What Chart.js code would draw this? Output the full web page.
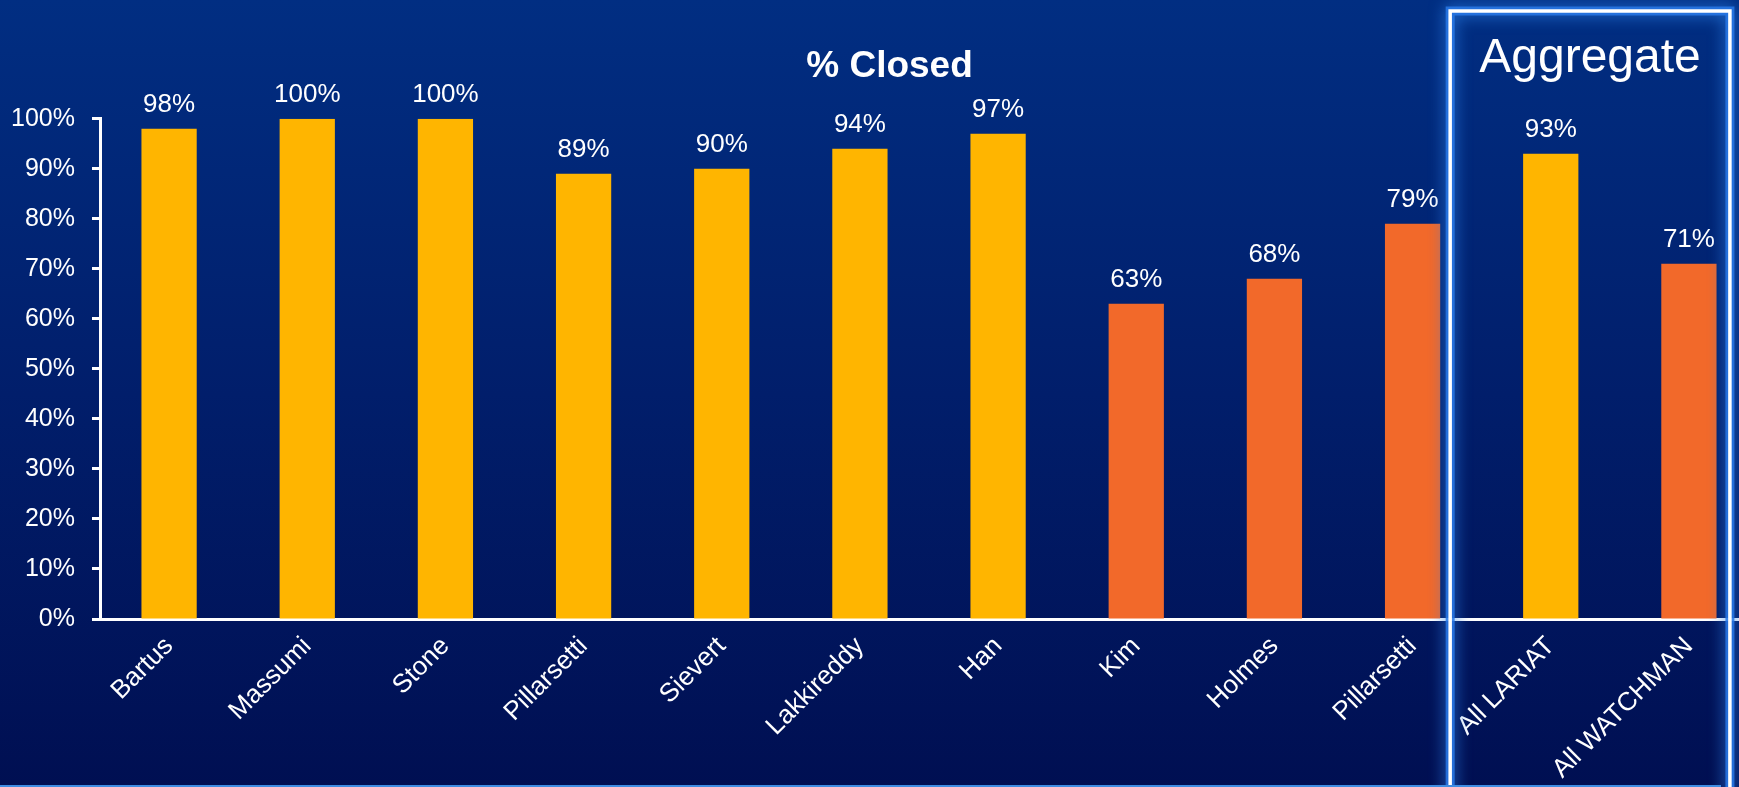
<!DOCTYPE html>
<html>
<head>
<meta charset="utf-8">
<script src="https://cdn.jsdelivr.net/npm/chart.js@4/dist/chart.umd.min.js"></script>
<style>
  html, body { margin: 0; padding: 0; overflow: hidden; background: #001a66; }
  #wrap { width: 1739px; height: 787px; overflow: hidden; position: relative; }
  canvas { display: block; }
</style>
</head>
<body>
<div id="wrap"><canvas id="c" width="1780" height="787"></canvas></div>
<script>
// ---- data ----
const categories = ["Bartus", "Massumi", "Stone", "Pillarsetti", "Sievert", "Lakkireddy", "Han", "Kim", "Holmes", "Pillarsetti", "All LARIAT", "All WATCHMAN"];
const percentClosed = [98, 100, 100, 89, 90, 94, 97, 63, 68, 79, 93, 71];
const device = ["LARIAT", "LARIAT", "LARIAT", "LARIAT", "LARIAT", "LARIAT", "LARIAT", "WATCHMAN", "WATCHMAN", "WATCHMAN", "LARIAT", "WATCHMAN"];
const yTicks = [0, 10, 20, 30, 40, 50, 60, 70, 80, 90, 100];
const chartTitle = "% Closed";
const boxTitle = "Aggregate";

const deviceColors = { LARIAT: "#FFB500", WATCHMAN: "#F2692A" };
const FONT = "'Liberation Sans', Arial, sans-serif";

const bgPlugin = {
  id: "bg",
  beforeDraw(chart) {
    const ctx = chart.ctx;
    const g = ctx.createLinearGradient(0, 0, 0, chart.height);
    g.addColorStop(0, "#012e82");
    g.addColorStop(0.5, "#011e6b");
    g.addColorStop(1, "#000f52");
    ctx.save();
    ctx.fillStyle = g;
    ctx.fillRect(0, 0, chart.width, chart.height);
    ctx.restore();
  }
};

const overlayPlugin = {
  id: "overlay",
  afterDatasetsDraw(chart) {
    const ctx = chart.ctx;
    const meta = chart.getDatasetMeta(0);
    ctx.save();
    ctx.fillStyle = "#ffffff";
    ctx.font = "26px " + FONT;
    ctx.textAlign = "center";
    ctx.textBaseline = "alphabetic";
    meta.data.forEach((bar, i) => {
      ctx.fillText(percentClosed[i] + "%", bar.x, bar.y - 17);
    });
    ctx.restore();
  },
  afterDraw(chart) {
    const ctx = chart.ctx;
    const x = chart.scales.x;
    // Aggregate box around the last two categories
    const left = (x.getPixelForValue(9) + x.getPixelForValue(10)) / 2 - 31.5;
    const right = x.getPixelForValue(11) + 41;
    const top = 11;
    ctx.save();
    // glow
    ctx.strokeStyle = "rgba(40,120,230,0.85)";
    ctx.shadowColor = "#2a80e8";
    ctx.shadowBlur = 16;
    ctx.lineWidth = 9;
    ctx.beginPath();
    ctx.moveTo(left, chart.height + 20);
    ctx.lineTo(left, top);
    ctx.lineTo(right, top);
    ctx.lineTo(right, chart.height + 20);
    ctx.stroke();
    ctx.shadowBlur = 0;
    ctx.strokeStyle = "#ffffff";
    ctx.lineWidth = 3.5;
    ctx.stroke();
    ctx.restore();

    // bottom thin line
    ctx.save();
    ctx.fillStyle = "#3f8de2";
    ctx.fillRect(0, 785, 1721, 2);
    ctx.restore();

    // titles
    ctx.save();
    ctx.fillStyle = "#ffffff";
    ctx.textAlign = "center";
    ctx.textBaseline = "alphabetic";
    ctx.font = "bold 37px " + FONT;
    ctx.fillText(chartTitle, 889.5, 77);
    ctx.font = "48px " + FONT;
    ctx.fillText(boxTitle, (left + right) / 2, 72);
    ctx.restore();
  }
};

new Chart(document.getElementById("c"), {
  type: "bar",
  data: {
    labels: categories,
    datasets: [{
      data: percentClosed,
      backgroundColor: device.map(d => deviceColors[d]),
      borderWidth: 0,
      barPercentage: 0.4,
      categoryPercentage: 1.0
    }]
  },
  options: {
    responsive: false,
    animation: false,
    devicePixelRatio: 1,
    layout: { padding: { top: 118.7, right: 22, left: 0, bottom: 0 } },
    plugins: { legend: { display: false }, title: { display: false }, tooltip: { enabled: false } },
    scales: {
      x: {
        grid: { display: false, drawOnChartArea: false, drawTicks: false },
        border: { display: true, color: "#ffffff", width: 3 },
        ticks: {
          color: "#ffffff",
          font: { size: 26, family: FONT },
          minRotation: 45,
          maxRotation: 45,
          padding: 12,
          autoSkip: false
        },
        afterFit(scale) { scale.height = 168; }
      },
      y: {
        min: 0,
        max: 100,
        afterBuildTicks(scale) { scale.ticks = yTicks.map(v => ({ value: v })); },
        grid: {
          drawOnChartArea: false,
          drawTicks: true,
          tickLength: 8,
          tickColor: "#ffffff",
          tickWidth: 3,
          color: "#ffffff"
        },
        border: { display: true, color: "#ffffff", width: 3 },
        ticks: {
          color: "#ffffff",
          font: { size: 25, family: FONT },
          padding: 17,
          callback: v => v + "%"
        },
        afterFit(scale) { scale.width = 100; }
      }
    }
  },
  plugins: [bgPlugin, overlayPlugin]
});
</script>
</body>
</html>
